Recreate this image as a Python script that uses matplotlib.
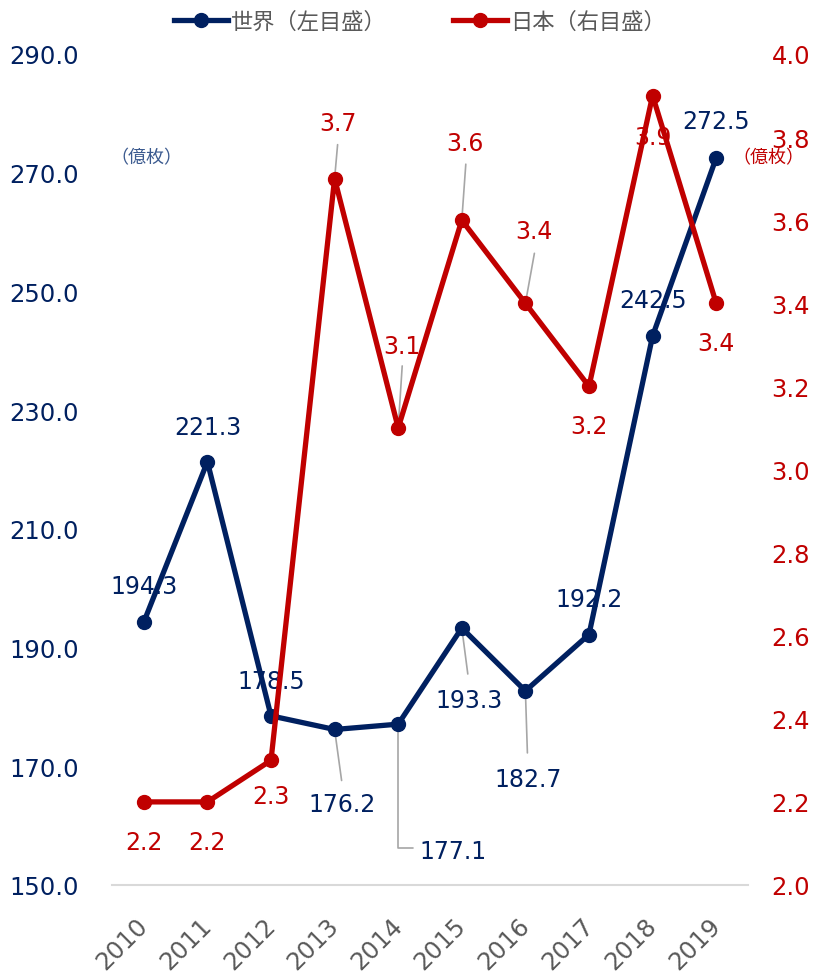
import matplotlib
matplotlib.use("Agg")
import matplotlib.pyplot as plt
import matplotlib.transforms as mtransforms
from matplotlib.lines import Line2D

plt.rcParams['font.family'] = ['DejaVu Sans', 'Noto Sans CJK JP']

# ---- data ----
years = ['2010', '2011', '2012', '2013', '2014', '2015', '2016', '2017', '2018', '2019']
world = [194.3, 221.3, 178.5, 176.2, 177.1, 193.3, 182.7, 192.2, 242.5, 272.5]
japan = [2.2, 2.2, 2.3, 3.7, 3.1, 3.6, 3.4, 3.2, 3.9, 3.4]
left_ticks = [150, 170, 190, 210, 230, 250, 270, 290]
right_ticks = [2.0, 2.2, 2.4, 2.6, 2.8, 3.0, 3.2, 3.4, 3.6, 3.8, 4.0]
legend_world = '世界（左目盛）'
legend_japan = '日本（右目盛）'
unit_label = '（億枚）'

# ---- label layout (pixel offsets from the point) ----
world_lbl_off = [(0, 36), (0, 35), (0, 35), (7, -75), (55, -127), (7, -72), (3, -88), (0, 36), (0, 36), (0, 37)]
japan_lbl_off = [(0, -40), (0, -40), (0, -36), (3, 56), (4, 82), (3, 77), (9, 72), (0, -40), (0, -41), (0, -40)]
world_leaders = {3: (7, -51), 5: (6, -46), 6: (2, -62)}
world_elbow = {4: (15, -124)}
japan_leaders = {3: (3, 34), 4: (4, 62), 5: (4, 56), 6: (9, 50)}

NAVY = '#002060'
RED = '#C00000'
GRAY_TXT = '#595959'
LEADER = '#A6A6A6'

fig = plt.figure(figsize=(8.15, 9.78), dpi=100)
ax = fig.add_axes([112 / 815, 1 - 886 / 978, (748 - 112) / 815, (886 - 55) / 978])
ax2 = ax.twinx()

x = list(range(len(years)))
ax.plot(x, world, color=NAVY, lw=3.8, marker='o', ms=10, zorder=3, solid_capstyle='round')
ax2.plot(x, japan, color=RED, lw=3.8, marker='o', ms=10, zorder=3, solid_capstyle='round')

ax.set_xlim(-0.5, len(years) - 0.5)
ax.set_ylim(150, 290)
ax2.set_ylim(2.0, 4.0)
ax.set_yticks(left_ticks)
ax.set_yticklabels([f'{v:.1f}' for v in left_ticks])
ax2.set_yticks(right_ticks)
ax2.set_yticklabels([f'{v:.1f}' for v in right_ticks])

for a in (ax, ax2):
    for s in a.spines.values():
        s.set_visible(False)
ax.spines['bottom'].set_visible(True)
ax.spines['bottom'].set_color('#D9D9D9')
ax.spines['bottom'].set_linewidth(1.5)

ax.tick_params(axis='y', length=0, pad=24, labelsize=17.5, labelcolor=NAVY)
ax2.tick_params(axis='y', length=0, pad=17, labelsize=17.5, labelcolor=RED)
ax.set_xticks(x)
ax.set_xticklabels(years, rotation=45, ha='right', fontsize=17.5, color=GRAY_TXT)
ax.tick_params(axis='x', length=0, pad=20)
for lab in ax.get_xticklabels():
    lab.set_transform(lab.get_transform() + mtransforms.ScaledTranslation(9 / 100, 0, fig.dpi_scale_trans))

# data labels
for i, v in enumerate(world):
    ax.annotate(f'{v:.1f}', xy=(i, v), xytext=world_lbl_off[i], textcoords='offset pixels',
                ha='center', va='center', fontsize=17, color=NAVY, zorder=1)
for i, v in enumerate(japan):
    ax2.annotate(f'{v:.1f}', xy=(i, v), xytext=japan_lbl_off[i], textcoords='offset pixels',
                 ha='center', va='center', fontsize=17, color=RED, zorder=1)

lp = dict(arrowstyle='-', color=LEADER, lw=1.2, shrinkA=0, shrinkB=0)
for i, off in world_leaders.items():
    ax.annotate('', xy=(i, world[i]), xytext=off, textcoords='offset pixels', arrowprops=lp, zorder=1)
for i, off in world_elbow.items():
    ax.annotate('', xy=(i, world[i]), xytext=off, textcoords='offset pixels',
                arrowprops=dict(lp, connectionstyle='angle,angleA=180,angleB=90,rad=0'), zorder=1)
for i, off in japan_leaders.items():
    ax2.annotate('', xy=(i, japan[i]), xytext=off, textcoords='offset pixels', arrowprops=lp, zorder=1)

# unit labels
fig.text(146 / 815, 1 - 158 / 978, unit_label, ha='center', va='center', fontsize=13,
         color='#3B5A8F', family=['Noto Sans CJK JP'])
fig.text(768 / 815, 1 - 158 / 978, unit_label, ha='center', va='center', fontsize=13,
         color=RED, family=['Noto Sans CJK JP'])

# legend
handles = [Line2D([], [], color=NAVY, lw=3.8, marker='o', ms=10),
           Line2D([], [], color=RED, lw=3.8, marker='o', ms=10)]
leg = fig.legend(handles, [legend_world, legend_japan], loc='center', bbox_to_anchor=(420 / 815, 1 - 22 / 978),
                 ncol=2, frameon=False, handlelength=2.4, handletextpad=0.15, columnspacing=3.0,
                 prop={'family': ['Noto Sans CJK JP'], 'size': 16})
for t in leg.get_texts():
    t.set_color(GRAY_TXT)

fig.savefig('out.png', dpi=100)
